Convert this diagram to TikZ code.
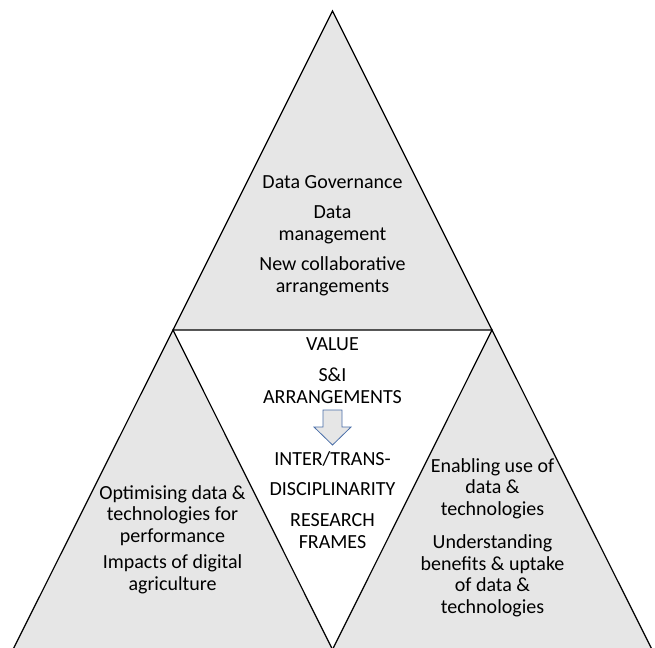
\documentclass[tikz,border=0pt]{standalone}
\usepackage{fontspec}
\setmainfont{Carlito}
\usepackage{tikz}
\usetikzlibrary{positioning}

\definecolor{paneGrey}{HTML}{E6E6E6}
\definecolor{arrowBlue}{HTML}{4A6EA8}

\tikzset{
    part/.style={fill=paneGrey, draw=black, line width=1.2pt, line join=miter},
    txt/.style={align=center, anchor=base, inner sep=0pt, font=\fontsize{20}{21.5}\selectfont},
    flow/.style={fill=paneGrey, draw=arrowBlue, line width=0.8pt, line join=miter},
}

\begin{document}
\begin{tikzpicture}[x=1pt, y=-1pt]
    \useasboundingbox (0,0) rectangle (655,647);
    \clip (0,0) rectangle (655,647);

    % Define corners
    \coordinate (apex) at (332.5,11);
    \coordinate (lv) at (173,330);
    \coordinate (rv) at (492,330);
    \coordinate (bl) at (13,649.5);
    \coordinate (bm) at (332.5,649.5);
    \coordinate (br) at (652,649.5);

    % Draw triangles
    \draw[part] (apex) -- (lv) -- (rv) -- cycle;
    \draw[part] (lv) -- (bl) -- (bm) -- cycle;
    \draw[part] (rv) -- (bm) -- (br) -- cycle;

    % Top triangle (y = baseline of last line)
    \node[txt] (gov) at (332.5,188) {Data Governance};
    \node[txt] (mgmt) at (332.5,240) {Data\\management};
    \node[txt] (collab) at (332.5,292) {New collaborative\\arrangements};

    % Inner triangle
    \node[txt] (value) at (332.5,350) {VALUE};
    \node[txt] (sni) at (332.5,403) {S\&I\\ARRANGEMENTS};
    \node[txt] (inter) at (332.5,465) {INTER/TRANS-};
    \node[txt] (disc) at (332.5,495) {DISCIPLINARITY};
    \node[txt] (frames) at (332.5,548) {RESEARCH\\FRAMES};

    % Down arrow
    \draw[flow] (323,410) -- (342,410) -- (342,427) -- (351,427)
        -- (332.5,445) -- (314,427) -- (323,427) -- cycle;

    % Left triangle
    \node[txt] (optim) at (172.5,542) {Optimising data \&\\technologies for\\performance};
    \node[txt] (impact) at (172.5,590) {Impacts of digital\\agriculture};

    % Right triangle
    \node[txt] (enable) at (492.5,515) {Enabling use of\\data \&\\technologies};
    \node[txt] (uptake) at (492.5,613) {Understanding\\benefits \& uptake\\of data \&\\technologies};
\end{tikzpicture}
\end{document}
